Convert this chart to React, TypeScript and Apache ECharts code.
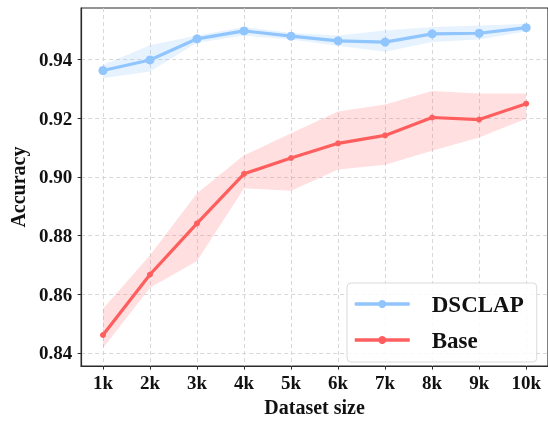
import React, { useEffect, useRef } from "react";
import * as echarts from "echarts";

const sizes = [1, 2, 3, 4, 5, 6, 7, 8, 9, 10];
const sizeLabels = ["1k", "2k", "3k", "4k", "5k", "6k", "7k", "8k", "9k", "10k"];
const yTicks = [0.84, 0.86, 0.88, 0.9, 0.92, 0.94];

const dsclap = [0.9362, 0.9398, 0.947, 0.9497, 0.9479, 0.9463, 0.9459, 0.9487, 0.9489, 0.9508];
const dsclapUpper = [0.9381, 0.9448, 0.9481, 0.951, 0.949, 0.9481, 0.9498, 0.951, 0.9515, 0.9521];
const dsclapLower = [0.9336, 0.9359, 0.9457, 0.9481, 0.9468, 0.9446, 0.9426, 0.9459, 0.9468, 0.9495];

const base = [0.8461, 0.8667, 0.8841, 0.901, 0.9064, 0.9114, 0.9141, 0.9202, 0.9195, 0.9249];
const baseUpper = [0.855, 0.8733, 0.8944, 0.9073, 0.9148, 0.9222, 0.9246, 0.9292, 0.9284, 0.9284];
const baseLower = [0.8417, 0.8622, 0.8713, 0.8961, 0.8952, 0.9025, 0.9041, 0.9089, 0.9134, 0.9198];

const BLUE = "#90c6fd";
const RED = "#ff5e5e";
const FONT = '"Liberation Serif", "Times New Roman", serif';

function bandSeries(name: string, upper: number[], lower: number[], fill: string) {
  return {
    name,
    type: "custom",
    silent: true,
    z: 1,
    data: [[0]],
    renderItem: (_params: any, api: any) => {
      const pts: number[][] = [];
      sizes.forEach((x, i) => pts.push(api.coord([x, upper[i]])));
      for (let i = sizes.length - 1; i >= 0; i--) pts.push(api.coord([sizes[i], lower[i]]));
      return { type: "polygon", shape: { points: pts }, style: { fill, stroke: "none" } };
    },
  };
}

export default function App() {
  const ref = useRef<HTMLDivElement>(null);
  useEffect(() => {
    if (!ref.current) return;
    const chart = echarts.init(ref.current, null, { renderer: "svg" });
    const pairs = (arr: number[]) => sizes.map((x, i) => [x, arr[i]]);
    const gridLine = { show: true, lineStyle: { color: "#d4d4d4", width: 0.9, type: [4, 3] as any } };
    chart.setOption({
      animation: false,
      grid: {
        left: 78,
        top: 8,
        width: 471,
        bottom: 48,
        show: true,
        borderColor: "#2a2a2a",
        borderWidth: 1.2,
        backgroundColor: "transparent",
      },
      xAxis: {
        type: "value",
        min: 0.536,
        max: 10.464,
        name: "Dataset size",
        nameLocation: "middle",
        nameGap: 28,
        nameTextStyle: { fontFamily: FONT, fontWeight: "bold", fontSize: 20, color: "#111" },
        axisLine: { show: true, lineStyle: { color: "#2a2a2a", width: 1.2 } },
        axisTick: { show: true, length: 3.5, lineStyle: { color: "#2a2a2a" }, customValues: sizes },
        axisLabel: {
          customValues: sizes,
          margin: 7,
          fontFamily: FONT,
          fontWeight: "bold",
          fontSize: 19,
          color: "#111",
          formatter: (v: number) => sizeLabels[sizes.indexOf(Math.round(v))] ?? "",
        },
        splitLine: gridLine,
      },
      yAxis: {
        type: "value",
        min: 0.8355,
        max: 0.9575,
        name: "Accuracy",
        nameLocation: "middle",
        nameGap: 51,
        nameTextStyle: { fontFamily: FONT, fontWeight: "bold", fontSize: 20, color: "#111" },
        axisLine: { show: true, lineStyle: { color: "#2a2a2a", width: 1.2 } },
        axisTick: { show: true, length: 3.5, lineStyle: { color: "#2a2a2a" }, customValues: yTicks },
        axisLabel: {
          customValues: yTicks,
          margin: 9,
          fontFamily: FONT,
          fontWeight: "bold",
          fontSize: 19,
          color: "#111",
          formatter: (v: number) => v.toFixed(2),
        },
        splitLine: gridLine,
      },
      legend: {
        data: ["DSCLAP", "Base"],
        orient: "vertical",
        left: 347,
        top: 283,
        padding: [9, 13, 10, 6],
        itemGap: 12,
        itemWidth: 55,
        itemHeight: 10,
        borderColor: "#dadada",
        borderWidth: 1,
        borderRadius: 4,
        backgroundColor: "rgba(255,255,255,0.85)",
        lineStyle: { width: 3.5 },
        textStyle: {
          fontFamily: FONT,
          fontWeight: "bold",
          fontSize: 23,
          lineHeight: 24,
          color: "#111",
          padding: [0, 0, 0, 17],
        },
      },
      series: [
        bandSeries("dsBand", dsclapUpper, dsclapLower, "rgba(144,198,253,0.22)"),
        bandSeries("baseBand", baseUpper, baseLower, "rgba(255,94,94,0.2)"),
        {
          name: "DSCLAP",
          type: "line",
          data: pairs(dsclap),
          symbol: "circle",
          symbolSize: 9,
          showAllSymbol: true,
          itemStyle: { color: BLUE },
          lineStyle: { color: BLUE, width: 3.2 },
          z: 3,
        },
        {
          name: "Base",
          type: "line",
          data: pairs(base),
          symbol: "circle",
          symbolSize: 6,
          showAllSymbol: true,
          itemStyle: { color: RED },
          lineStyle: { color: RED, width: 3.2 },
          z: 3,
        },
      ],
    });
    return () => chart.dispose();
  }, []);
  return (
    <div
      ref={ref}
      style={{ position: "fixed", left: 0, top: 0, width: 548, height: 422 }}
    />
  );
}
